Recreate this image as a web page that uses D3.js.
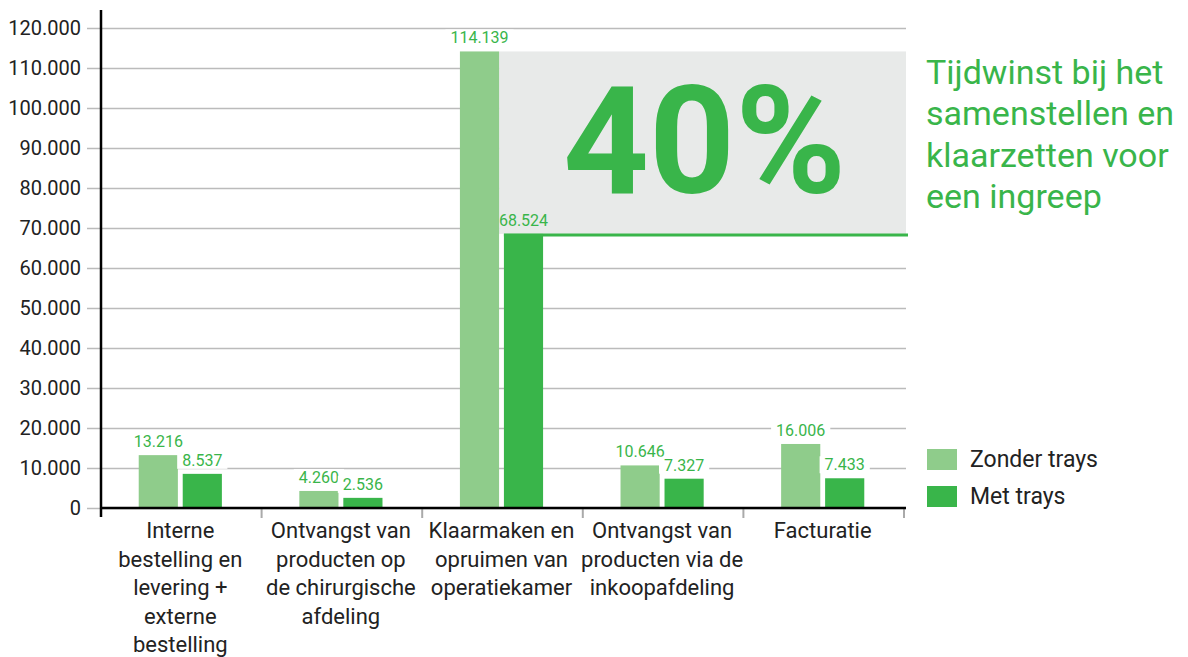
<!DOCTYPE html>
<html>
<head>
<meta charset="utf-8">
<script src="https://cdn.jsdelivr.net/npm/d3@7"></script>
<style>
  body { margin: 0; background: #fff; }
  text { font-family: Roboto, "DejaVu Sans", sans-serif; }
</style>
</head>
<body>
<div id="chart"></div>
<script>
// data
const categories = [
    "Interne\nbestelling en\nlevering +\nexterne\nbestelling",
    "Ontvangst van\nproducten op\nde chirurgische\nafdeling",
    "Klaarmaken en\nopruimen van\noperatiekamer",
    "Ontvangst van\nproducten via de\ninkoopafdeling",
    "Facturatie"
];
const series = ["Zonder trays", "Met trays"];
const zonderTrays = [13216, 4260, 114139, 10646, 16006];
const metTrays = [8537, 2536, 68524, 7327, 7433];
const yTicks = [0, 10000, 20000, 30000, 40000, 50000, 60000, 70000, 80000, 90000, 100000, 110000, 120000];
const titleLines = ["Tijdwinst bij het", "samenstellen en", "klaarzetten voor", "een ingreep"];

const lightGreen = "#8fcc8b",
      darkGreen = "#39b54a",
      boxGrey = "#e8eae9";

var width = 1188, height = 657;
var plot = {left: 101, right: 906, top: 28, bottom: 508};

var nl = d3.formatLocale({decimal: ",", thousands: ".", grouping: [3], currency: ["€", ""]});
var fmt = nl.format(",d");

var data = categories.map((c, i) => ({cat: c, "Zonder trays": zonderTrays[i], "Met trays": metTrays[i]}));

var svg = d3.select("#chart")
            .append("svg")
            .attr("width", width)
            .attr("height", height);

var x0 = d3.scaleBand()
           .domain(categories)
           .range([100, 903]);

var x1 = d3.scaleBand()
           .domain(series)
           .range([0, x0.bandwidth()])
           .paddingInner(0.11)
           .paddingOuter(0.88);

var y = d3.scaleLinear()
          .domain([0, 120000])
          .range([plot.bottom, plot.top]);

var color = d3.scaleOrdinal().domain(series).range([lightGreen, darkGreen]);

// gridlines + y tick labels
var yAxis = svg.append("g")
               .attr("transform", "translate(87,0)")
               .call(d3.axisLeft(y).tickValues(yTicks).tickFormat(fmt)
                     .tickSize(-(plot.right - 87)).tickPadding(6));
yAxis.select(".domain").remove();
yAxis.selectAll("line")
     .attr("stroke", "#bbbbbb")
     .attr("stroke-width", 1.6);
yAxis.selectAll("text")
     .style("font-size", "20px")
     .attr("fill", "#222");

// grey box showing the gain on the largest category
var iMax = d3.maxIndex(zonderTrays);
var maxCat = categories[iMax];
var boxLeft = x0(maxCat) + x1("Zonder trays") + x1.bandwidth();
var boxTop = y(zonderTrays[iMax]), boxBottom = y(metTrays[iMax]);

svg.append("rect")
   .attr("x", boxLeft)
   .attr("y", boxTop)
   .attr("width", plot.right - boxLeft)
   .attr("height", boxBottom - boxTop)
   .attr("fill", boxGrey);

svg.append("line")
   .attr("x1", x0(maxCat) + x1("Met trays"))
   .attr("x2", plot.right + 2)
   .attr("y1", boxBottom + 1)
   .attr("y2", boxBottom + 1)
   .attr("stroke", darkGreen)
   .attr("stroke-width", 3);

svg.append("text")
   .attr("x", (boxLeft + plot.right) / 2 + 2)
   .attr("y", (boxTop + boxBottom) / 2 + 50)
   .attr("text-anchor", "middle")
   .style("font-size", "150px")
   .style("font-weight", "bold")
   .attr("fill", darkGreen)
   .text(d3.format(".0%")(1 - metTrays[iMax] / zonderTrays[iMax]));

// bars
var groups = svg.append("g")
                .selectAll("g")
                .data(data)
                .join("g")
                .attr("transform", d => "translate(" + x0(d.cat) + ",0)");

groups.selectAll("rect")
      .data(d => series.map(s => ({cat: d.cat, key: s, value: d[s]})))
      .join("rect")
      .attr("x", d => x1(d.key))
      .attr("y", d => y(d.value))
      .attr("width", x1.bandwidth())
      .attr("height", d => y(0) - y(d.value))
      .attr("fill", d => color(d.key));

// value labels with a white patch that breaks the gridlines
var labels = groups.selectAll("g.lab")
      .data(d => series.map(s => ({cat: d.cat, key: s, value: d[s]})))
      .join("g")
      .attr("class", "lab");

labels.append("text")
      .attr("x", d => x1(d.key) + x1.bandwidth() / 2)
      .attr("y", d => y(d.value) - 8)
      .attr("text-anchor", "middle")
      .style("font-size", "16px")
      .attr("fill", darkGreen)
      .text(d => fmt(d.value));

labels.each(function(d) {
    if (d.cat == maxCat && d.key == "Met trays") return; // sits on the grey box
    var bb = d3.select(this).select("text").node().getBBox();
    d3.select(this).insert("rect", "text")
      .attr("x", bb.x - 5)
      .attr("y", bb.y + 1)
      .attr("width", bb.width + 10)
      .attr("height", bb.height - 2)
      .attr("fill", "#fff");
});

// axes lines
svg.append("line")
   .attr("x1", plot.left).attr("x2", plot.left)
   .attr("y1", 10).attr("y2", plot.bottom + 9)
   .attr("stroke", "#000").attr("stroke-width", 2.5);

svg.append("g")
   .selectAll("line")
   .data(categories)
   .join("line")
   .attr("x1", d => x0(d) + x0.bandwidth() + 1)
   .attr("x2", d => x0(d) + x0.bandwidth() + 1)
   .attr("y1", plot.bottom)
   .attr("y2", plot.bottom + 10)
   .attr("stroke", "#aaa")
   .attr("stroke-width", 2);

svg.append("line")
   .attr("x1", plot.left).attr("x2", plot.right)
   .attr("y1", plot.bottom).attr("y2", plot.bottom)
   .attr("stroke", "#000").attr("stroke-width", 2.5);

// category labels
var xAxis = svg.append("g")
               .attr("transform", "translate(0," + plot.bottom + ")")
               .call(d3.axisBottom(x0).tickSize(0));
xAxis.select(".domain").remove();
xAxis.selectAll("text")
     .style("font-size", "22px")
     .attr("fill", "#222")
     .attr("y", 30)
     .attr("dy", null)
     .each(function(d) {
         var t = d3.select(this);
         var lines = d.split("\n");
         t.text(null);
         lines.forEach((l, i) => {
             t.append("tspan")
              .attr("x", 0)
              .attr("dy", i == 0 ? 0 : 28.5)
              .text(l);
         });
     });

// title on the right
svg.append("text")
   .attr("x", 926)
   .attr("y", 84)
   .style("font-size", "34px")
   .attr("fill", darkGreen)
   .selectAll("tspan")
   .data(titleLines)
   .join("tspan")
   .attr("x", 926)
   .attr("dy", (d, i) => i == 0 ? 0 : 41.3)
   .text(d => d);

// legend
var size = 30;
var legend = svg.append("g")
                .selectAll("g")
                .data(series)
                .join("g")
                .attr("transform", (d, i) => "translate(927," + (449 + i * 37) + ")");
legend.append("rect")
      .attr("width", size)
      .attr("height", 21)
      .attr("fill", d => color(d));
legend.append("text")
      .attr("x", 43)
      .attr("y", 18)
      .style("font-size", "23px")
      .attr("fill", "#222")
      .text(d => d);
</script>
</body>
</html>
